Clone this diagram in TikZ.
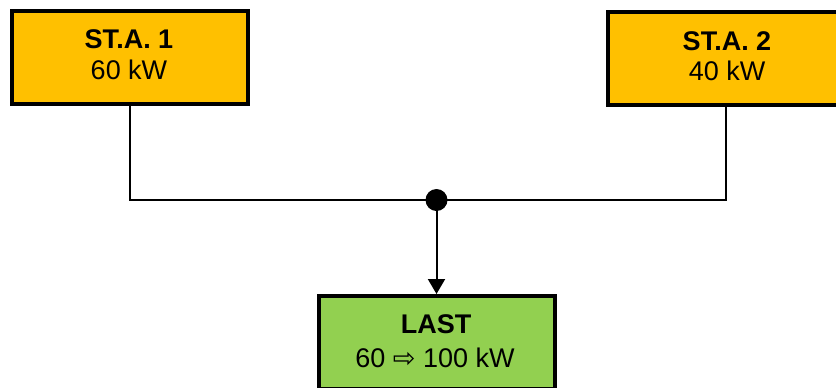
\documentclass[tikz,border=0pt]{standalone}
\usepackage{fontspec}
\setmainfont{Liberation Sans}
\newfontfamily\symfont{DejaVu Sans}
\usetikzlibrary{arrows.meta}
\definecolor{boxorange}{HTML}{FFC000}
\definecolor{boxgreen}{HTML}{92D050}
\tikzset{
  unitbox/.style={draw=black, line width=4bp, minimum width=236bp, minimum height=93bp, inner sep=0pt},
  wire/.style={draw=black, line width=2bp},
  boxtext/.style={anchor=base, inner sep=0pt, font=\fontsize{27bp}{30bp}\selectfont},
}
\begin{document}
\begin{tikzpicture}[x=1bp,y=-1bp]
\useasboundingbox (0,0) rectangle (836,387);
\begin{scope}
\clip (0,0) rectangle (836,387);
\node[unitbox, fill=boxorange] (s1) at (130,57.5) {};
\node[unitbox, fill=boxorange] (s2) at (726,58.5) {};
\node[unitbox, fill=boxgreen] (last) at (436.5,342.5) {};
\end{scope}
\node[boxtext] (s1a) at (129,48) {\bfseries ST.A. 1};
\node[boxtext] (s1b) at (129,79) {60 kW};
\node[boxtext] (s2a) at (727,50) {\bfseries ST.A. 2};
\node[boxtext] (s2b) at (727,80) {40 kW};
\node[boxtext] (la) at (436,333) {\bfseries LAST};
\node[boxtext] (lb) at (435,367) {60 {\symfont\fontsize{27bp}{27bp}\selectfont ⇨} 100 kW};
\coordinate (j) at (436.5,200);
\draw[wire] (s1.south) |- (j);
\draw[wire] (s2.south) |- (j);
\draw[wire, -{Triangle[width=17bp,length=15bp]}] (j) -- (last.north);
\fill[black] (j) circle (11bp);
\end{tikzpicture}
\end{document}
